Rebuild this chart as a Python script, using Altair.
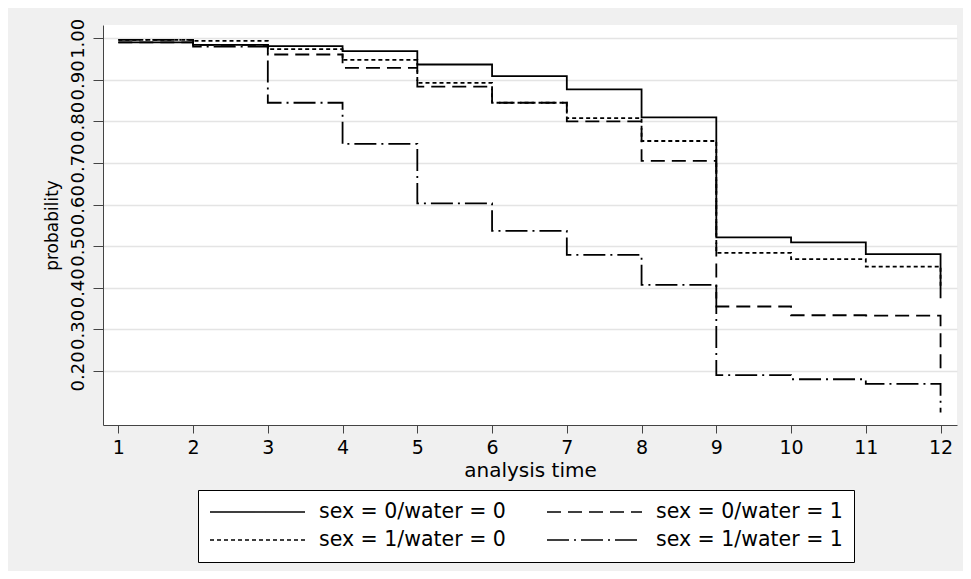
import altair as alt
import pandas as pd

times = [1, 2, 3, 4, 5, 6, 7, 8, 9, 10, 11, 12]
groups = ["sex = 0/water = 0", "sex = 1/water = 0", "sex = 0/water = 1", "sex = 1/water = 1"]
s0w0 = [0.990, 0.984, 0.981, 0.969, 0.937, 0.909, 0.877, 0.810, 0.521, 0.509, 0.481, 0.375]
s0w1 = [0.990, 0.984, 0.961, 0.929, 0.884, 0.845, 0.800, 0.705, 0.355, 0.334, 0.333, 0.199]
s1w0 = [0.996, 0.994, 0.974, 0.948, 0.893, 0.845, 0.808, 0.753, 0.484, 0.469, 0.451, 0.400]
s1w1 = [0.996, 0.980, 0.845, 0.746, 0.603, 0.537, 0.479, 0.407, 0.190, 0.180, 0.169, 0.100]
y_ticks = [0.2, 0.3, 0.4, 0.5, 0.6, 0.7, 0.8, 0.9, 1.0]
x_ticks = times

rows = []
for g, vals in zip(groups, [s0w0, s1w0, s0w1, s1w1]):
    for t, v in zip(times, vals):
        rows.append({"time": t, "prob": v, "group": g})
df = pd.DataFrame(rows)

dashes = [[1, 0], [4, 3], [14, 7], [22, 5, 2, 5]]

chart = alt.Chart(df).mark_line(
    interpolate="step-after", color="black", strokeWidth=1.8
).encode(
    x=alt.X("time:Q",
            scale=alt.Scale(domain=[0.795, 12.22], nice=False, zero=False),
            axis=alt.Axis(values=x_ticks, format="d", title="analysis time",
                          grid=False, tickSize=8, labelPadding=5,
                          titleY=45, titleBaseline="middle")),
    y=alt.Y("prob:Q",
            scale=alt.Scale(domain=[0.07, 1.032], nice=False, zero=False),
            axis=alt.Axis(values=y_ticks, format=".2f", title="probability",
                          grid=True, tickSize=10, labelAngle=270,
                          labelAlign="center", labelBaseline="bottom",
                          labelPadding=6, titleAngle=270, titleX=-51, titleY=200,
                          titleAlign="center", titleBaseline="middle")),
    strokeDash=alt.StrokeDash("group:N",
                              scale=alt.Scale(domain=groups, range=dashes),
                              legend=alt.Legend(title=None, orient="none",
                                                legendX=95, legendY=465,
                                                columns=2, symbolType="stroke",
                                                symbolSize=9025, symbolStrokeWidth=1.5,
                                                symbolStrokeColor="black",
                                                labelOffset=13, columnPadding=40,
                                                rowPadding=6, padding=11,
                                                clipHeight=22,
                                                strokeColor="black", fillColor="white",
                                                labelFont="DejaVu Sans", labelFontSize=20.5,
                                                labelColor="black", labelLimit=400)),
).properties(
    width=854, height=400,
    background="#f0f0f0",
    padding={"left": 95, "top": 17, "right": 6, "bottom": 146},
    autosize=alt.AutoSizeParams(type="none"),
).configure_view(
    fill="white", stroke=None
).configure_axis(
    labelFont="DejaVu Sans", titleFont="DejaVu Sans",
    labelColor="black", titleColor="black",
    titleFontWeight="normal",
    domainColor="#444444", tickColor="#444444",
    gridColor="#e4e4e4", gridWidth=1.5,
).configure_axisX(
    labelFontSize=19, titleFontSize=20
).configure_axisY(
    labelFontSize=18, titleFontSize=17
)

chart.save("out.html", embed_options={"renderer": "svg", "actions": False})
